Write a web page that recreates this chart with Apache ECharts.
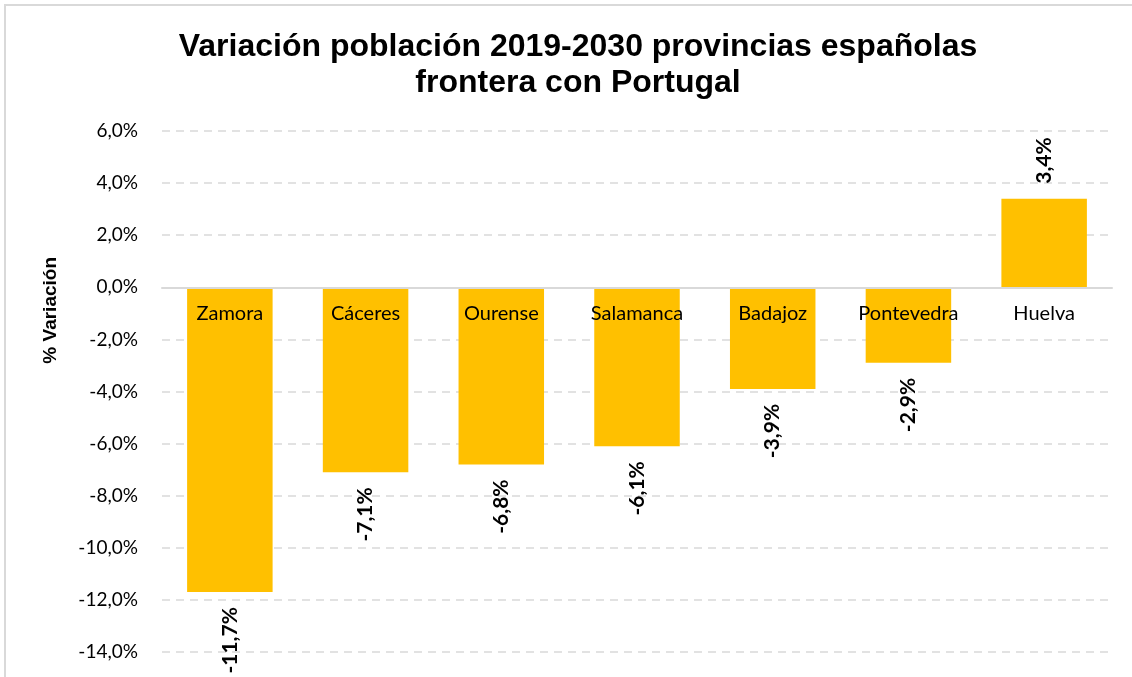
<!DOCTYPE html>
<html>
<head>
<meta charset="utf-8">
<script src="https://cdn.jsdelivr.net/npm/echarts@6/dist/echarts.min.js"></script>
<style>
html,body{margin:0;padding:0;background:#fff;overflow:hidden;}
#frame{position:absolute;left:4px;top:4px;width:1140px;height:700px;border:2px solid #d9d9d9;box-sizing:border-box;}
#chart{position:absolute;left:0;top:0;width:1132px;height:677px;}
</style>
</head>
<body>
<div id="frame"></div>
<div id="chart"></div>
<script>
const categories = ['Zamora', 'Cáceres', 'Ourense', 'Salamanca', 'Badajoz', 'Pontevedra', 'Huelva'];
const values = [-11.7, -7.1, -6.8, -6.1, -3.9, -2.9, 3.4];
const titleText = 'Variación población 2019-2030 provincias españolas\nfrontera con Portugal';
const yAxisName = '% Variación';
const yMin = -14, yMax = 6, yStep = 2;

const fmt = v => v.toFixed(1).replace('.', ',') + '%';

const gridTop = 131, gridBottom = 25, H = 677;
const plotH = H - gridTop - gridBottom;
// distance of the zero line from the bottom of the plot
const zeroFromBottom = plotH * (0 - yMin) / (yMax - yMin);

const chart = echarts.init(document.getElementById('chart'));
chart.setOption({
  backgroundColor: 'transparent',
  animation: false,
  title: {
    text: titleText,
    left: 573, top: 24, textAlign: 'center',
    textStyle: { fontFamily: 'Liberation Sans', fontWeight: 'bold', fontSize: 32, lineHeight: 36, color: '#000' }
  },
  graphic: [{
    type: 'text', left: 41, top: 257, rotation: Math.PI / 2,
    style: { text: yAxisName, fontFamily: 'Liberation Sans', fontWeight: 'bold', fontSize: 19, fill: '#000' }
  }],
  grid: { left: 162, right: 20, top: gridTop, bottom: gridBottom },
  xAxis: {
    type: 'category', data: categories, z: 10,
    position: 'bottom', offset: -zeroFromBottom,
    axisLine: { onZero: false, lineStyle: { color: '#d9d9d9', width: 2 } },
    axisTick: { show: false },
    axisLabel: { interval: 0, margin: 16, fontFamily: 'Lato', fontSize: 20, color: '#000' }
  },
  yAxis: {
    type: 'value', min: yMin, max: yMax, interval: yStep,
    axisLine: { show: false }, axisTick: { show: false },
    axisLabel: { formatter: fmt, margin: 24, fontFamily: 'Lato', fontSize: 19, color: '#000' },
    splitLine: { lineStyle: { color: '#d9d9d9', type: [8, 6], width: 1.5 } }
  },
  series: [{
    type: 'bar', barWidth: '63%',
    itemStyle: { color: '#FFC000' },
    data: values.map(v => ({
      value: v,
      label: { position: v < 0 ? 'bottom' : 'top', align: v < 0 ? 'right' : 'left' }
    })),
    label: {
      show: true, rotate: 90, distance: 15, verticalAlign: 'middle',
      formatter: p => fmt(p.value),
      fontFamily: 'Lato', fontWeight: 'bold', fontSize: 21, color: '#000'
    }
  }]
});
</script>
</body>
</html>
